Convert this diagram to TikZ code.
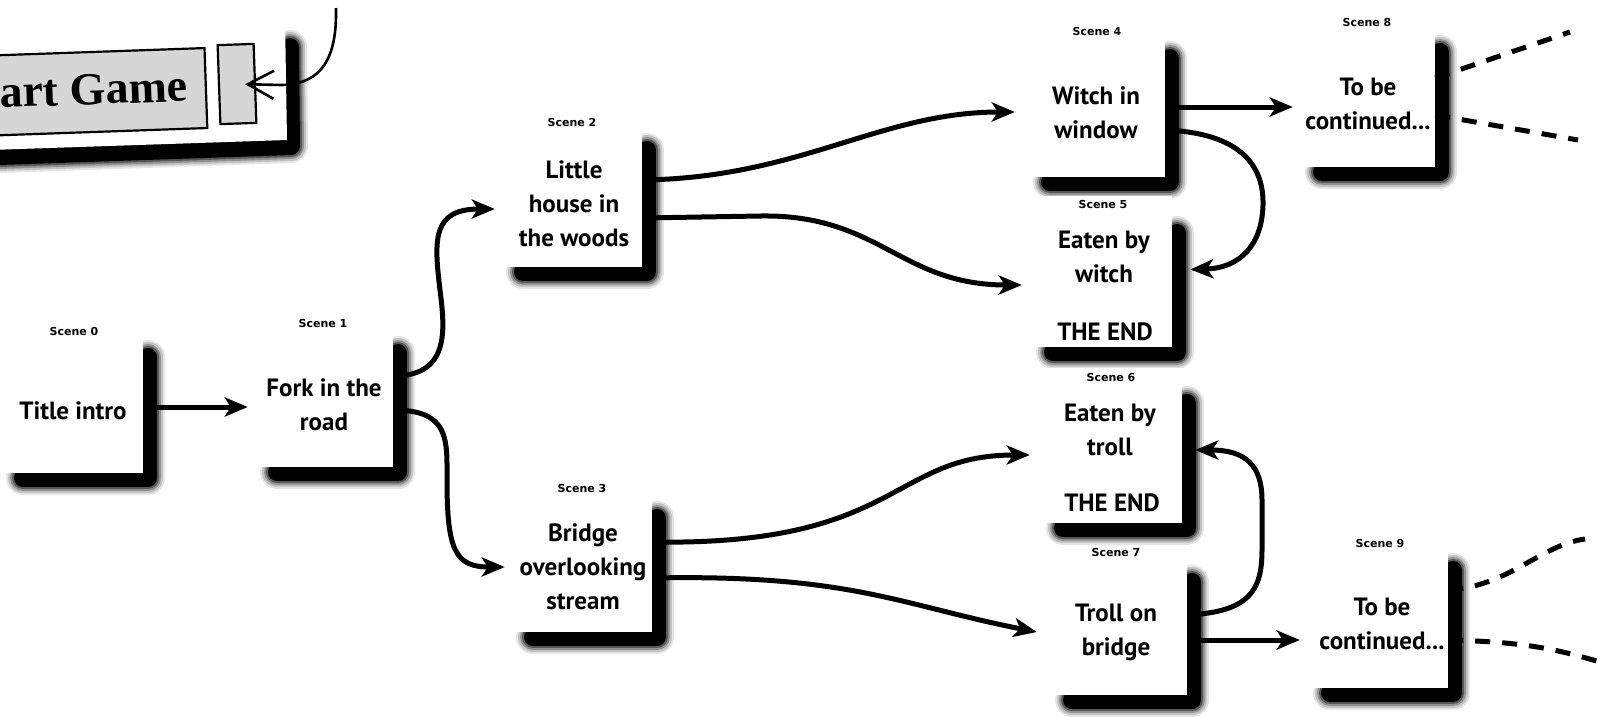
\documentclass[tikz,border=0pt]{standalone}
\usepackage{fontspec}
\usetikzlibrary{arrows.meta,fit}
\newfontfamily\handfont{PT Sans}
\newfontfamily\tagfont{DejaVu Sans}
\newfontfamily\btnfont{Liberation Serif}

\tikzset{
  paper/.style={fill=white, inner sep=0pt},
  caption/.style={font=\handfont\bfseries\fontsize{25}{34}\selectfont, align=center, inner sep=0pt},
  scenetag/.style={font=\tagfont\bfseries\fontsize{11}{12}\selectfont, inner sep=0pt},
  flow/.style={line width=5pt, -{Stealth[length=23pt,width=19pt,inset=6pt]}},
  loose/.style={line width=5pt, dash pattern=on 15pt off 12pt},
  panelbtn/.style={draw, line width=2.2pt, fill=black!16, inner sep=0pt},
  pointer/.style={line width=2.6pt, -{Straight Barb[length=26pt,width=28pt]}},
}

% a scene card: soft black shadow right and below, white paper on top
% #1 name, #2 left, #3 top, #4 right, #5 bottom, #6 shadow top, #7 shadow left
\newcommand\scenecard[7]{%
  \foreach \w/\o in {34/0.1, 30/0.15, 26/0.25, 22/0.4, 18/1}
    \draw[line width=\w pt, opacity=\o, line cap=round, line join=round]
      (#7+10, #5+5) -- (#4+5, #5+5) -- (#4+5, #6+10);
  \node[paper, fit={(#2,#3) (#4,#5)}] (#1) {};
}

\begin{document}
\begin{tikzpicture}[x=1pt,y=-1pt]
\useasboundingbox (0,0) rectangle (1601,716);
\clip (0,0) rectangle (1601,716);
\fill[white] (0,0) rectangle (1601,716);

% ---- start game panel ----
\foreach \w/\o in {34/0.1, 30/0.15, 26/0.25, 22/0.4, 18/1}
  \draw[line width=\w pt, opacity=\o, line cap=round, line join=round]
    (-30,157) -- (291,146) -- (290,47);
\fill[white] (-40,25) -- (285,18) -- (287,140) -- (-40,151) -- cycle;
\node[panelbtn, rotate=2, minimum width=300pt, minimum height=80pt, anchor=east] (startbtn) at (207,88) {};
\node[anchor=base east, rotate=2, inner sep=0pt, font=\btnfont\bfseries\fontsize{46}{46}\selectfont] (startlbl) at (188,101) {Start Game};
\node[panelbtn, rotate=2, minimum width=36pt, minimum height=79pt] (slot) at (237,84) {};
\coordinate (pin) at (336,8);
\draw[pointer, shorten >=8pt] (pin) .. controls (337,58) and (322,84) .. (282,85) -- (slot.center);

% ---- scene cards ----
\scenecard{sc0}{-20}{318}{143}{473}{347}{13}
\scenecard{sc1}{248}{310}{393}{467}{343}{267}
\scenecard{sc2}{495}{108}{642}{267}{140}{513}
\scenecard{sc3}{505}{474}{652}{632}{508}{523}
\scenecard{sc4}{1015}{17}{1165}{177}{48}{1040}
\scenecard{sc5}{1022}{196}{1172}{347}{223}{1043}
\scenecard{sc6}{1030}{368}{1182}{523}{393}{1053}
\scenecard{sc7}{1037}{545}{1187}{695}{572}{1062}
\scenecard{sc8}{1293}{10}{1435}{167}{42}{1312}
\scenecard{sc9}{1300}{531}{1448}{688}{560}{1320}

% ---- scene numbers ----
\node[scenetag] (tag0) at (74,331) {Scene 0};
\node[scenetag] (tag1) at (323,323) {Scene 1};
\node[scenetag] (tag2) at (572,122) {Scene 2};
\node[scenetag] (tag3) at (582,488) {Scene 3};
\node[scenetag] (tag4) at (1097,31) {Scene 4};
\node[scenetag] (tag5) at (1103,204) {Scene 5};
\node[scenetag] (tag6) at (1111,377) {Scene 6};
\node[scenetag] (tag7) at (1116,552) {Scene 7};
\node[scenetag] (tag8) at (1367,22) {Scene 8};
\node[scenetag] (tag9) at (1380,543) {Scene 9};

% ---- scene captions ----
\node[caption] (cap0) at (73,411) {Title intro};
\node[caption] (cap1) at (324,405) {Fork in the\\road};
\node[caption] (cap2) at (574,204) {Little\\house in\\the woods};
\node[caption] (cap3) at (583,567) {Bridge\\overlooking\\stream};
\node[caption] (cap4) at (1096,113) {Witch in\\window};
\node[caption] (cap5) at (1104,257) {Eaten by\\witch};
\node[caption] (end5) at (1105,332) {THE END};
\node[caption] (cap6) at (1110,430) {Eaten by\\troll};
\node[caption] (end6) at (1112,503) {THE END};
\node[caption] (cap7) at (1116,632) {Troll on\\bridge};
\node[caption] (cap8) at (1368,104) {To be\\continued...};
\node[caption] (cap9) at (1382,624) {To be\\continued...};

% ---- story paths ----
\draw[flow] (sc0.east |- 0,407) -- (sc1.west |- 0,407);
\draw[flow] (sc1.east |- 0,376) .. controls (450,376) and (445,330) .. (440,290)
  .. controls (434,240) and (432,209) .. (sc2.west |- 0,209);
\draw[flow] (sc1.east |- 0,410) .. controls (450,410) and (447,440) .. (447,480)
  .. controls (447,550) and (455,567) .. (sc3.west |- 0,567);
\draw[flow] (sc2.east |- 0,180) .. controls (800,178) and (880,112) .. (sc4.west |- 0,112);
\draw[flow] (sc2.east |- 0,218) -- (760,216) .. controls (880,214) and (900,285) .. (sc5.west |- 0,285);
\draw[flow] (sc3.east |- 0,542) .. controls (900,546) and (890,455) .. (sc6.west |- 0,455);
\draw[flow] (sc3.east |- 0,578) .. controls (850,574) and (900,605) .. (sc7.west |- 0,632);
\draw[flow] (sc4.east |- 0,107) -- (sc8.west |- 0,107);
\draw[flow, shorten >=18pt] (sc4.east |- 0,130) .. controls (1240,133) and (1264,165) .. (1263,205)
  .. controls (1262,245) and (1240,268) .. (sc5.east |- 0,270);
\draw[flow, shorten >=13pt] (sc7.east |- 0,615) .. controls (1250,612) and (1262,590) .. (1262,550)
  -- (1262,500) .. controls (1262,465) and (1245,450) .. (sc6.east |- 0,450);
\draw[flow] (sc7.east |- 0,640) -- (sc9.west |- 0,640);

% ---- loose ends ----
\coordinate (out8a) at (1570,32);
\coordinate (out8b) at (1578,140);
\coordinate (out9a) at (1585,539);
\coordinate (out9b) at (1610,665);
\draw[loose] (sc8.east |- 0,78) -- (out8a);
\draw[loose] (sc8.east |- 0,115) -- (out8b);
\draw[loose] (sc9.east |- 0,590) .. controls (1510,586) and (1540,545) .. (out9a);
\draw[loose] (sc9.east |- 0,640) .. controls (1530,642) and (1560,650) .. (out9b);
\end{tikzpicture}
\end{document}
